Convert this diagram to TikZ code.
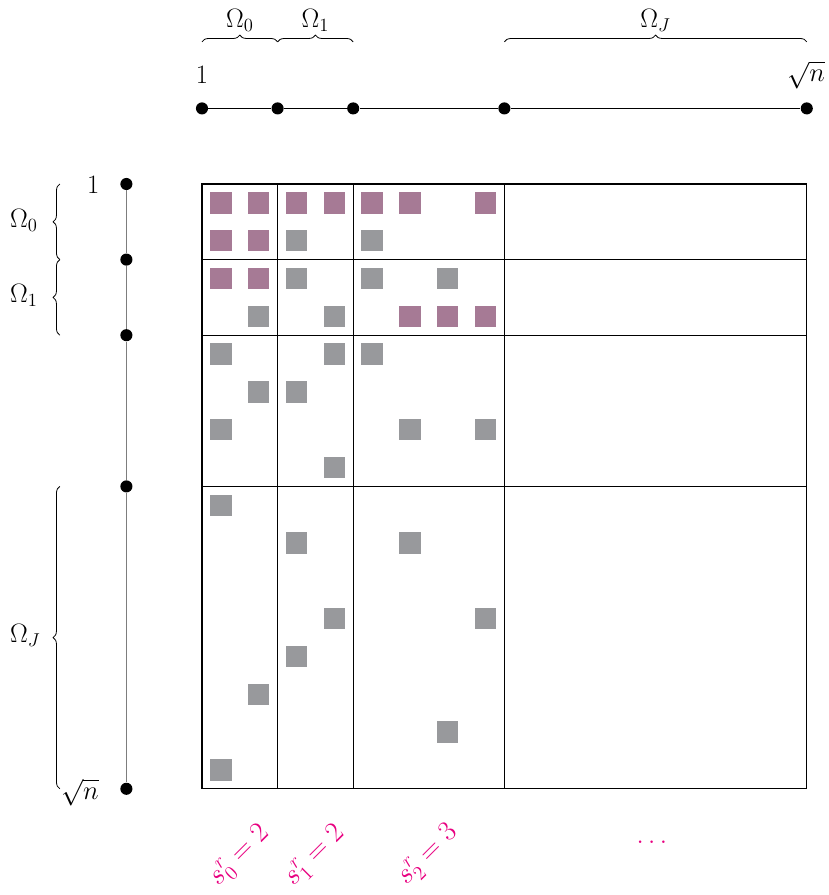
\RequirePackage{fix-cm}
\documentclass[tikz,border=0pt]{standalone}
\usetikzlibrary{decorations.pathreplacing}
\definecolor{sqpurple}{RGB}{166,122,149}
\definecolor{sqgray}{RGB}{152,153,156}
\definecolor{lblpink}{RGB}{232,0,128}
\definecolor{axisgray}{RGB}{125,125,125}
\begin{document}
\begin{tikzpicture}[x=1cm,y=1cm,
  font=\fontsize{20}{24}\selectfont,
  dotnode/.style={circle,fill=black,inner sep=0pt,minimum size=0.32cm},
  pq/.style={fill=sqpurple,minimum size=0.57cm,inner sep=0pt},
  gq/.style={fill=sqgray,minimum size=0.57cm,inner sep=0pt},
  gridline/.style={line width=1pt},
  bracedeco/.style={decorate,decoration={brace,amplitude=0.18cm},line width=0.6pt},
  txt/.style={inner sep=0pt},
  pinklbl/.style={text=lblpink,rotate=45,inner sep=0pt,font=\fontsize{21.5}{25}\selectfont}]
\useasboundingbox (-5.344,-18.81) rectangle (16.587,4.868);

% grid
\draw[gridline] (0,0) rectangle (16,-16);
\foreach \v in {2,4,8} {
  \draw[gridline] (\v,0) -- (\v,-16);
  \draw[gridline] (0,-\v) -- (16,-\v);
}

% squares
\foreach \c/\r [count=\k] in {0/0,1/0,2/0,3/0,4/0,5/0,7/0,0/1,1/1,0/2,1/2,5/3,6/3,7/3}
  \node[pq] (p\k) at (\c+0.5,-\r-0.5) {};
\foreach \c/\r [count=\k] in {2/1,4/1,2/2,4/2,6/2,1/3,3/3,0/4,3/4,4/4,1/5,2/5,0/6,5/6,7/6,3/7,0/8,2/9,5/9,3/11,7/11,2/12,1/13,6/14,0/15}
  \node[gq] (g\k) at (\c+0.5,-\r-0.5) {};

% top axis
\node[dotnode] (t0) at (0,2) {};
\node[dotnode] (t1) at (2,2) {};
\node[dotnode] (t2) at (4,2) {};
\node[dotnode] (t3) at (8,2) {};
\node[dotnode] (t4) at (16,2) {};
\draw[line width=1pt] (t0) -- (t1) -- (t2) -- (t3) -- (t4);
\node[txt,anchor=base] (tone) at (0,2.67) {$1$};
\node[txt,anchor=base] (tsqrt) at (15.98,2.7) {$\sqrt{n}$};

% top braces
\coordinate (tb0a) at (0,3.76);  \coordinate (tb0b) at (2,3.76);
\coordinate (tb1a) at (2,3.76);  \coordinate (tb1b) at (4,3.76);
\coordinate (tbJa) at (8,3.76);  \coordinate (tbJb) at (16,3.76);
\draw[bracedeco] (tb0a) -- (tb0b);
\draw[bracedeco] (tb1a) -- (tb1b);
\draw[bracedeco] (tbJa) -- (tbJb);
\node[txt,anchor=base] (to0) at (1,4.13) {$\Omega_0$};
\node[txt,anchor=base] (to1) at (3,4.13) {$\Omega_1$};
\node[txt,anchor=base] (toJ) at (12,4.13) {$\Omega_J$};

% left axis
\node[dotnode] (l0) at (-2,0) {};
\node[dotnode] (l1) at (-2,-2) {};
\node[dotnode] (l2) at (-2,-4) {};
\node[dotnode] (l3) at (-2,-8) {};
\node[dotnode] (l4) at (-2,-16) {};
\draw[axisgray,line width=1pt] (l0) -- (l1) -- (l2) -- (l3) -- (l4);
\node[txt,anchor=base] (lone) at (-2.88,-0.26) {$1$};
\node[txt,anchor=base] (lsqrt) at (-3.23,-16.28) {$\sqrt{n}$};

% left braces
\coordinate (lb0a) at (-3.76,-2);  \coordinate (lb0b) at (-3.76,0);
\coordinate (lb1a) at (-3.76,-4);  \coordinate (lb1b) at (-3.76,-2);
\coordinate (lbJa) at (-3.76,-16); \coordinate (lbJb) at (-3.76,-8);
\draw[bracedeco] (lb0a) -- (lb0b);
\draw[bracedeco] (lb1a) -- (lb1b);
\draw[bracedeco] (lbJa) -- (lbJb);
\node[txt,anchor=base west] (lo0) at (-5.08,-1.14) {$\Omega_0$};
\node[txt,anchor=base west] (lo1) at (-5.08,-3.14) {$\Omega_1$};
\node[txt,anchor=base west] (loJ) at (-5.08,-12.14) {$\Omega_J$};

% bottom labels
\node[pinklbl] (s0) at (1.0,-17.78) {$s_0^r = 2$};
\node[pinklbl] (s1) at (2.99,-17.78) {$s_1^r = 2$};
\node[pinklbl] (s2) at (5.98,-17.76) {$s_2^r = 3$};
\node[txt,text=lblpink] (sdots) at (11.9,-17.41) {$\dots$};
\end{tikzpicture}
\end{document}
